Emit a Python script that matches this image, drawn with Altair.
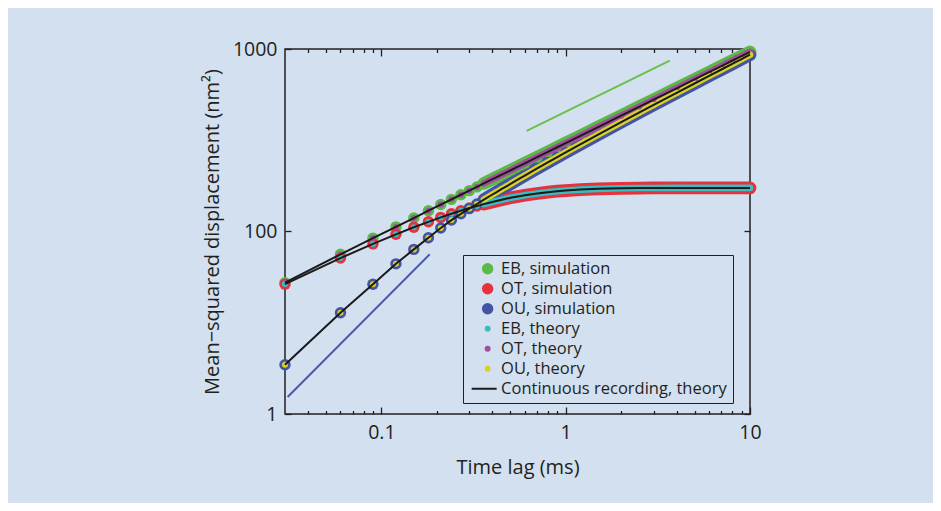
import altair as alt
import pandas as pd

# ---------------- data ----------------
lag_ms = [0.03, 0.06, 0.09, 0.12, 0.15, 0.18, 0.21, 0.24, 0.27, 0.30,
          0.33, 0.36, 0.39, 0.42, 0.45, 0.48, 0.51, 0.54, 0.57, 0.60,
          0.70, 0.80, 0.90, 1.0, 1.2, 1.5, 2.0, 2.5, 3.0, 4.0,
          5.0, 6.0, 7.0, 8.0, 9.0, 10.0]

# upper rising curve (green simulation / magenta theory)
msd_eb = [52.4, 75.0, 92.0, 106.0, 118.5, 130.0, 140.5, 150.0, 159.0, 167.5,
          175.5, 183.5, 191.0, 198.0, 205.0, 211.5, 218.0, 224.5, 230.5, 236.5,
          255.5, 273.0, 289.5, 305.0, 334.0, 373.5, 431.0, 482.0, 528.0, 609.0,
          681.0, 746.0, 806.0, 862.0, 914.0, 963.0]

# saturating curve (red simulation / cyan theory)
msd_ot = [51.5, 71.5, 85.5, 96.5, 105.5, 113.0, 119.5, 125.0, 130.0, 134.5,
          138.0, 141.3, 144.2, 146.9, 149.3, 151.5, 153.4, 155.1, 156.6, 158.0,
          161.6, 164.3, 166.2, 167.7, 169.7, 171.3, 172.5, 173.0, 173.2, 173.3,
          173.3, 173.3, 173.3, 173.3, 173.3, 173.3]

# lower rising curve (blue simulation / yellow theory)
msd_ou = [18.6, 35.9, 51.4, 66.5, 79.8, 92.5, 104.5, 115.5, 125.0, 133.5,
          141.5, 149.5, 157.0, 164.0, 171.0, 177.5, 184.0, 190.5, 196.5, 202.5,
          221.5, 239.0, 255.5, 271.0, 300.0, 339.5, 397.0, 448.0, 494.0, 575.0,
          647.0, 712.0, 772.0, 828.0, 880.0, 932.0]

# slope guide lines
ref_green_lag = [0.614, 3.67]
ref_green_msd = [355.6, 863.0]
ref_blue_lag = [0.031, 0.183]
ref_blue_msd = [12.4, 75.0]

legend_names = ["EB, simulation", "OT, simulation", "OU, simulation",
                "EB, theory", "OT, theory", "OU, theory",
                "Continuous recording, theory"]
legend_colors = ["#5cb946", "#e6323c", "#4454a4",
                 "#3bbcc0", "#a34d9f", "#d8d228", "#1a1a1a"]
LINE_SHAPE = "M-2,-0.125L1.125,-0.125L1.125,0.125L-2,0.125Z"
legend_shapes = ["circle"] * 6 + [LINE_SHAPE]
legend_sizes = [130, 130, 130, 36, 36, 36, 256]

x_major = [0.1, 1, 10]
x_minor = [0.04, 0.05, 0.06, 0.07, 0.08, 0.09,
           0.2, 0.3, 0.4, 0.5, 0.6, 0.7, 0.8, 0.9,
           2, 3, 4, 5, 6, 7, 8, 9]
y_major = [10, 100, 1000]

# ---------------- tables ----------------
curves = [("EB", msd_eb, "EB, simulation", "OT, theory"),
          ("OT", msd_ot, "OT, simulation", "EB, theory"),
          ("OU", msd_ou, "OU, simulation", "OU, theory")]

sim_rows, th_rows = [], []
for cname, vals, sim_name, th_name in curves:
    for t, v in zip(lag_ms, vals):
        sim_rows.append({"lag": t, "msd": v, "series": sim_name,
                         "band": "band " + sim_name, "curve": cname})
        th_rows.append({"lag": t, "msd": v, "series": th_name,
                        "band": "band " + th_name, "curve": cname})
df_sim = pd.DataFrame(sim_rows)
df_th = pd.DataFrame(th_rows)
df_rg = pd.DataFrame({"lag": ref_green_lag, "msd": ref_green_msd})
df_rb = pd.DataFrame({"lag": ref_blue_lag, "msd": ref_blue_msd})

# ---------------- scales & axes ----------------
W, H = 465, 365
INK = "#231f20"
FONT = "Open Sans"
xscale = alt.Scale(type="log", domain=[0.03, 10], nice=False)
yscale = alt.Scale(type="log", domain=[10, 1000], nice=False)

color_scale = alt.Scale(domain=legend_names, range=legend_colors)
stroke_scale = alt.Scale(domain=["band " + n for n in legend_names[:6]],
                         range=legend_colors[:6])
shape_scale = alt.Scale(domain=legend_names, range=legend_shapes)
size_scale = alt.Scale(type="ordinal", domain=legend_names, range=legend_sizes)

X_LAB = alt.Axis(orient="bottom", values=x_major, format="~g", ticks=False,
                 domain=False, grid=False, labelFontSize=19.5, labelPadding=9,
                 labelFlush=False, title="Time lag (ms)", titleFontSize=20,
                 titlePadding=16, titleFontWeight="normal")
X_TB_MAJ = alt.Axis(orient="top", offset=-H, values=x_major, labels=False,
                    domain=False, grid=False, tickSize=7, title=None)
X_TB_MIN = alt.Axis(orient="top", offset=-H, values=x_minor, labels=False,
                    domain=False, grid=False, tickSize=3.5, title=None)
X_TT_MAJ = alt.Axis(orient="bottom", offset=-H, values=x_major, labels=False,
                    domain=False, grid=False, tickSize=7, title=None)
X_TT_MIN = alt.Axis(orient="bottom", offset=-H, values=x_minor, labels=False,
                    domain=False, grid=False, tickSize=3.5, title=None)

Y_LAB = alt.Axis(orient="left", values=y_major,
                 labelExpr="datum.value >= 500 ? '1000' : (datum.value >= 50 ? '100' : '1')",
                 ticks=False, domain=False, grid=False, labelFontSize=19.5,
                 labelPadding=8, title="Mean\u2212squared displacement (nm\u00b2)",
                 titleFontSize=20, titlePadding=10, titleFontWeight="normal")
Y_TL = alt.Axis(orient="right", offset=-W, values=y_major, labels=False,
                domain=False, grid=False, tickSize=6, title=None)
Y_TR = alt.Axis(orient="left", offset=-W, values=y_major, labels=False,
                domain=False, grid=False, tickSize=6, title=None)

LEG = alt.Legend(orient="none", legendX=178, legendY=206, title=None,
                 strokeColor=INK, padding=5.5, rowPadding=3, symbolOffset=10.9,
                 labelOffset=5.2, labelFont=FONT, labelFontSize=16.5,
                 labelColor=INK, labelLimit=400, symbolOpacity=1,
                 symbolStrokeWidth=0)


def X(axis):
    return alt.X("lag:Q", scale=xscale, axis=axis)


def Y(axis):
    return alt.Y("msd:Q", scale=yscale, axis=axis)


sim_band = alt.Chart(df_sim).transform_filter("datum.lag >= 0.35").mark_line(
    strokeWidth=12.8, strokeCap="round").encode(
    x=X(X_LAB), y=Y(Y_LAB),
    stroke=alt.Stroke("band:N", scale=stroke_scale, legend=None),
    detail="curve:N")

sim_pts = alt.Chart(df_sim).mark_point(filled=True, opacity=1, strokeWidth=0).encode(
    x=X(X_TB_MAJ), y=Y(Y_TL),
    color=alt.Color("series:N", scale=color_scale, legend=LEG),
    shape=alt.Shape("series:N", scale=shape_scale, legend=LEG),
    size=alt.Size("series:N", scale=size_scale, legend=LEG))

th_band = alt.Chart(df_th).transform_filter("datum.lag >= 0.35").mark_line(
    strokeWidth=6.6, strokeCap="round").encode(
    x=X(X_TB_MIN), y=Y(Y_TR),
    stroke=alt.Stroke("band:N", scale=stroke_scale, legend=None),
    detail="curve:N")

th_pts = alt.Chart(df_th).mark_point(filled=True, opacity=1, strokeWidth=0).encode(
    x=X(X_TT_MAJ), y=Y(None),
    color=alt.Color("series:N", scale=color_scale, legend=LEG),
    shape=alt.Shape("series:N", scale=shape_scale, legend=LEG),
    size=alt.Size("series:N", scale=size_scale, legend=LEG))

black = alt.Chart(df_sim).mark_line(color="#1a1a1a", strokeWidth=2).encode(
    x=X(X_TT_MIN), y=Y(None), detail="curve:N")

ref_g = alt.Chart(df_rg).mark_line(color="#6cc04a", strokeWidth=2).encode(
    x=X(None), y=Y(None))
ref_b = alt.Chart(df_rb).mark_line(color="#4a58a8", strokeWidth=2).encode(
    x=X(None), y=Y(None))

chart = alt.layer(sim_band, sim_pts, th_band, th_pts, black, ref_g, ref_b).resolve_axis(
    x="independent", y="independent"
).properties(
    width=W, height=H, background="#d3e0f0",
    padding={"left": 277, "top": 41, "right": 183, "bottom": 89},
    autosize=alt.AutoSizeParams(type="none"),
).configure_view(
    stroke=INK, strokeWidth=1.5
).configure_axis(
    labelFont=FONT, titleFont=FONT, labelColor=INK, titleColor=INK,
    tickColor=INK, tickWidth=1.3
)

chart.save("out.html", embed_options={"renderer": "svg", "actions": False})
